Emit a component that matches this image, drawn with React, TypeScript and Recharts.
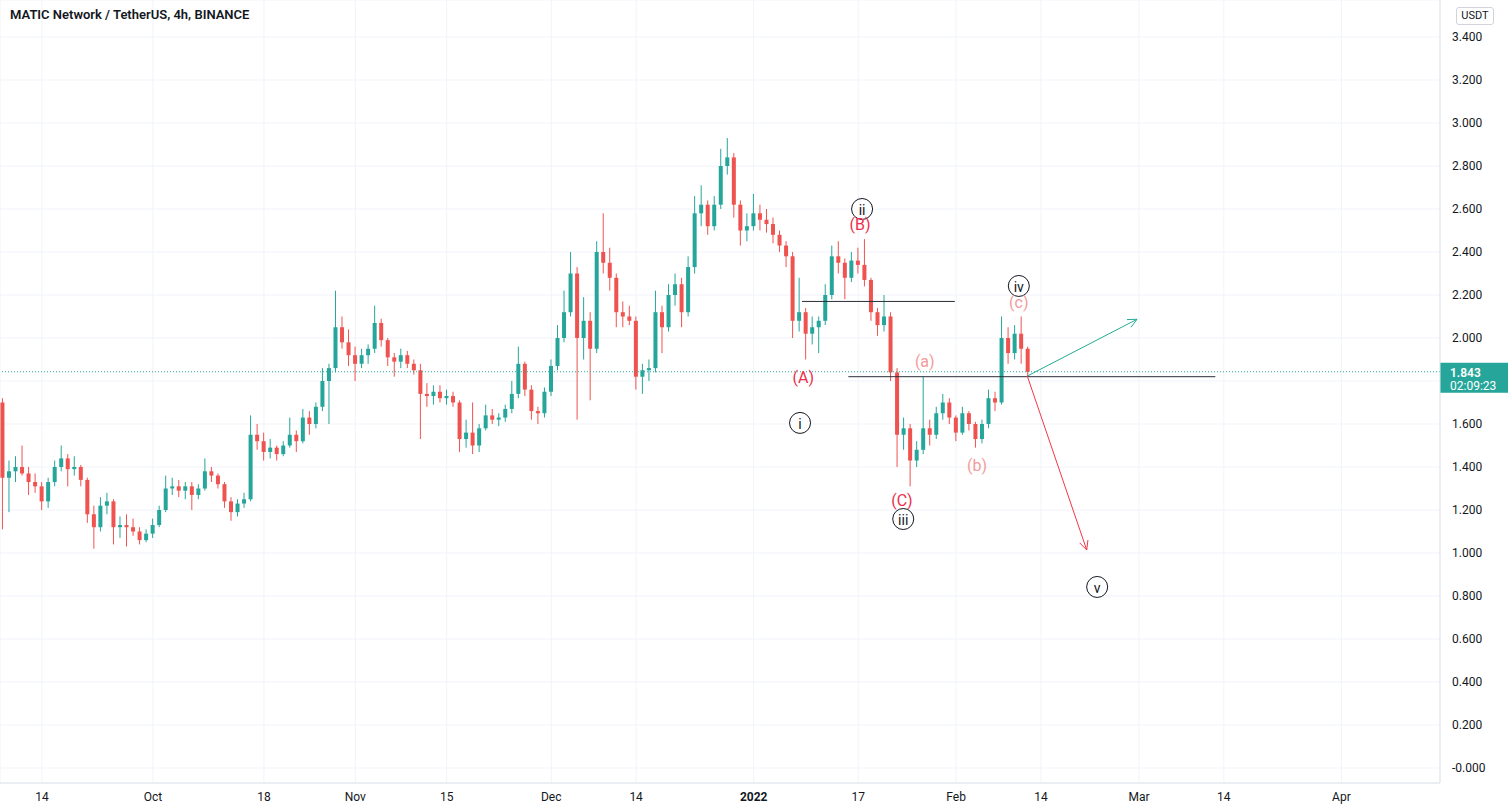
import React from 'react';
import { ComposedChart, Bar, XAxis, YAxis, CartesianGrid, ReferenceLine, ReferenceDot } from 'recharts';

// day index: 0 = Sep 1 2021
const firstDay = 7;
const opens = [1.70,1.35,1.38,1.40,1.37,1.33,1.31,1.24,1.33,1.40,1.44,1.39,1.40,1.34,1.18,1.12,1.22,1.24,1.12,1.13,1.12,1.10,1.06,1.09,1.13,1.20,1.30,1.31,1.29,1.31,1.27,1.30,1.38,1.36,1.32,1.24,1.19,1.23,1.25,1.55,1.52,1.47,1.49,1.46,1.50,1.55,1.52,1.63,1.60,1.68,1.80,1.86,2.05,1.98,1.92,1.88,1.92,1.95,2.07,1.99,1.91,1.89,1.92,1.88,1.85,1.74,1.73,1.75,1.72,1.73,1.70,1.53,1.56,1.50,1.58,1.64,1.62,1.63,1.67,1.74,1.88,1.76,1.66,1.65,1.75,1.87,2.00,2.12,2.30,2.00,2.08,1.95,2.40,2.35,2.28,2.12,2.10,2.08,1.82,1.85,1.86,2.12,2.05,2.20,2.25,2.12,2.33,2.58,2.62,2.52,2.62,2.80,2.84,2.62,2.50,2.52,2.58,2.55,2.53,2.48,2.43,2.38,2.08,2.12,2.02,2.05,2.08,2.20,2.38,2.35,2.28,2.36,2.34,2.27,2.12,2.06,2.10,1.84,1.55,1.58,1.43,1.48,1.58,1.55,1.65,1.70,1.63,1.56,1.65,1.60,1.53,1.60,1.72,1.70,2.00,1.93,2.02,1.95];
const highs = [1.72,1.43,1.45,1.50,1.40,1.37,1.33,1.35,1.43,1.50,1.46,1.45,1.41,1.35,1.22,1.26,1.28,1.25,1.17,1.18,1.16,1.12,1.11,1.16,1.22,1.36,1.35,1.34,1.33,1.33,1.32,1.44,1.40,1.37,1.33,1.26,1.25,1.28,1.64,1.60,1.56,1.53,1.50,1.52,1.63,1.57,1.67,1.66,1.70,1.86,1.88,2.22,2.10,2.04,1.96,1.95,1.97,2.15,2.09,2.00,1.93,1.95,1.94,1.90,1.88,1.79,1.78,1.78,1.76,1.75,1.71,1.62,1.70,1.60,1.69,1.67,1.65,1.69,1.80,1.96,1.89,1.78,1.68,1.77,1.90,2.06,2.22,2.40,2.33,2.19,2.12,2.45,2.58,2.42,2.30,2.17,2.15,2.10,1.88,1.90,2.22,2.15,2.25,2.30,2.28,2.38,2.66,2.71,2.64,2.66,2.88,2.93,2.86,2.64,2.58,2.67,2.62,2.60,2.56,2.50,2.45,2.40,2.28,2.14,2.10,2.10,2.25,2.43,2.45,2.37,2.40,2.42,2.46,2.28,2.14,2.20,2.12,1.86,1.63,1.60,1.52,1.82,1.62,1.68,1.74,1.72,1.64,1.68,1.66,1.61,1.62,1.76,1.75,2.10,2.05,2.06,2.10,1.96];
const lows = [1.11,1.19,1.33,1.36,1.27,1.28,1.20,1.21,1.31,1.38,1.31,1.36,1.31,1.14,1.02,1.10,1.18,1.04,1.07,1.03,1.08,1.04,1.05,1.07,1.12,1.19,1.27,1.26,1.25,1.20,1.25,1.29,1.33,1.30,1.21,1.15,1.17,1.21,1.24,1.48,1.43,1.44,1.43,1.45,1.49,1.47,1.51,1.55,1.58,1.66,1.60,1.84,1.95,1.87,1.80,1.86,1.88,1.93,1.96,1.87,1.82,1.86,1.86,1.83,1.53,1.68,1.69,1.70,1.69,1.68,1.47,1.49,1.46,1.47,1.57,1.60,1.59,1.61,1.65,1.72,1.73,1.62,1.60,1.63,1.73,1.85,1.98,2.10,1.62,1.90,1.71,1.93,2.30,2.22,2.05,2.05,2.06,1.76,1.74,1.80,1.84,1.93,2.03,2.15,2.05,2.10,2.30,2.52,2.48,2.50,2.60,2.76,2.56,2.43,2.45,2.50,2.50,2.49,2.44,2.40,2.33,2.00,2.03,1.90,1.97,1.93,2.06,2.18,2.30,2.18,2.26,2.30,2.24,2.08,2.01,2.03,1.80,1.40,1.48,1.31,1.40,1.46,1.50,1.53,1.62,1.60,1.52,1.55,1.57,1.49,1.51,1.58,1.66,1.69,1.88,1.90,1.88,1.82];
const closes = [1.35,1.38,1.40,1.37,1.33,1.31,1.24,1.33,1.40,1.44,1.39,1.40,1.34,1.18,1.12,1.22,1.24,1.12,1.13,1.12,1.10,1.06,1.09,1.13,1.20,1.30,1.31,1.29,1.31,1.27,1.30,1.38,1.36,1.32,1.24,1.19,1.23,1.25,1.55,1.52,1.47,1.49,1.46,1.50,1.55,1.52,1.63,1.60,1.68,1.80,1.86,2.05,1.98,1.92,1.88,1.92,1.95,2.07,1.99,1.91,1.89,1.92,1.88,1.85,1.74,1.73,1.75,1.72,1.73,1.70,1.53,1.56,1.50,1.58,1.64,1.62,1.63,1.67,1.74,1.88,1.76,1.66,1.65,1.75,1.87,2.00,2.12,2.30,2.00,2.08,1.95,2.40,2.35,2.28,2.12,2.10,2.08,1.82,1.85,1.86,2.12,2.05,2.20,2.25,2.12,2.33,2.58,2.62,2.52,2.62,2.80,2.84,2.62,2.50,2.52,2.58,2.55,2.53,2.48,2.43,2.38,2.08,2.12,2.02,2.05,2.08,2.20,2.38,2.35,2.28,2.36,2.34,2.27,2.12,2.06,2.10,1.84,1.55,1.58,1.43,1.48,1.58,1.55,1.65,1.70,1.63,1.56,1.65,1.60,1.53,1.60,1.72,1.70,2.00,1.93,2.02,1.95,1.843];

const tickDays = [13, 30, 47, 61, 75, 91, 104, 122, 138, 153, 166, 181, 194, 212];
const tickLabels = ['14', 'Oct', '18', 'Nov', '15', 'Dec', '14', '2022', '17', 'Feb', '14', 'Mar', '14', 'Apr'];
const priceTicks = [0, 0.2, 0.4, 0.6, 0.8, 1.0, 1.2, 1.4, 1.6, 1.8, 2.0, 2.2, 2.4, 2.6, 2.8, 3.0, 3.2, 3.4];

const levelLines = [
  { from: 129.4, to: 152.8, price: 2.17 },
  { from: 136.5, to: 192.7, price: 1.82 },
];
const arrows = [
  { x1: 163.9, y1: 1.823, x2: 180.7, y2: 2.087, kind: 'up' },
  { x1: 163.9, y1: 1.823, x2: 173.0, y2: 1.014, kind: 'down' },
];
const waveLabels = [
  { t: 129.6, p: 1.814, text: '(A)', kind: 'major' },
  { t: 129.1, p: 1.605, text: 'i', kind: 'circle' },
  { t: 138.6, p: 2.60, text: 'ii', kind: 'circle' },
  { t: 138.3, p: 2.526, text: '(B)', kind: 'major' },
  { t: 148.2, p: 1.893, text: '(a)', kind: 'minor' },
  { t: 144.7, p: 1.242, text: '(C)', kind: 'major' },
  { t: 144.9, p: 1.158, text: 'iii', kind: 'circle' },
  { t: 156.2, p: 1.405, text: '(b)', kind: 'minor' },
  { t: 162.6, p: 2.242, text: 'iv', kind: 'circle' },
  { t: 162.6, p: 2.167, text: '(c)', kind: 'minor' },
  { t: 174.6, p: 0.842, text: 'v', kind: 'circle' },
];

const UP = '#26a69a';
const DOWN = '#ef5350';
const FONT = 'Roboto, "Liberation Sans", sans-serif';
const TEXT = '#131722';

const data = closes.map((c, i) => ({
  t: firstDay + i,
  range: [lows[i], highs[i]],
  open: opens[i],
  high: highs[i],
  low: lows[i],
  close: c,
}));
const lastClose = closes[closes.length - 1];

const Candle = (props: any) => {
  const { x, y, width, height, payload } = props;
  if (x == null || y == null) return null;
  const top = Math.min(y, y + height);
  const h = Math.abs(height);
  const { open, close, high, low } = payload;
  const span = high - low || 1;
  const py = (v: number) => top + ((high - v) / span) * h;
  const color = close >= open ? UP : DOWN;
  const cx = x + width / 2;
  const bTop = py(Math.max(open, close));
  const bBot = py(Math.min(open, close));
  return (
    <g>
      <line x1={cx} x2={cx} y1={top} y2={top + h} stroke={color} strokeWidth={1} />
      <rect x={x} y={bTop} width={width} height={Math.max(1, bBot - bTop)} fill={color} />
    </g>
  );
};

const ArrowShape = (color: string) => (props: any) => {
  const { x1, y1, x2, y2 } = props;
  if ([x1, y1, x2, y2].some((v) => v == null || isNaN(v))) return null;
  const ang = Math.atan2(y2 - y1, x2 - x1);
  const len = 10;
  const a1 = ang + Math.PI - 0.45;
  const a2 = ang + Math.PI + 0.45;
  return (
    <g>
      <line x1={x1} y1={y1} x2={x2} y2={y2} stroke={color} strokeWidth={1} />
      <line x1={x2} y1={y2} x2={x2 + len * Math.cos(a1)} y2={y2 + len * Math.sin(a1)} stroke={color} strokeWidth={1} />
      <line x1={x2} y1={y2} x2={x2 + len * Math.cos(a2)} y2={y2 + len * Math.sin(a2)} stroke={color} strokeWidth={1} />
    </g>
  );
};

const labelShape = (text: string, kind: string) => (p: any) => {
  const { cx, cy } = p;
  if (cx == null || cy == null) return null;
  if (kind === 'circle') {
    return (
      <g>
        <circle cx={cx} cy={cy} r={10.5} fill="#ffffff" stroke={TEXT} strokeWidth={1} />
        <text x={cx} y={cy + 1} textAnchor="middle" dominantBaseline="central" fontSize={14} fontFamily={FONT} fill={TEXT}>{text}</text>
      </g>
    );
  }
  const color = kind === 'major' ? '#ec2f4b' : '#f39b9b';
  return (
    <text x={cx} y={cy} textAnchor="middle" dominantBaseline="central" fontSize={16} fontFamily={FONT} fill={color}>{text}</text>
  );
};

const PriceTag = (props: any) => {
  const vb = props.viewBox || {};
  const x = (vb.x || 0) + (vb.width || 0);
  const y = vb.y || 0;
  return (
    <g>
      <rect x={x} y={y - 9} width={68} height={30} fill={UP} />
      <text x={x + 10} y={y + 1} fontSize={12} fontWeight={600} fontFamily={FONT} fill="#ffffff" dominantBaseline="central">{lastClose.toFixed(3)}</text>
      <text x={x + 10} y={y + 14} fontSize={12} fontFamily={FONT} fill="#ffffff" dominantBaseline="central">02:09:23</text>
    </g>
  );
};

const XTick = (props: any) => {
  const { x, y, payload } = props;
  const idx = tickDays.indexOf(payload.value);
  const label = idx >= 0 ? tickLabels[idx] : '';
  return (
    <text x={x} y={y + 6} textAnchor="middle" dominantBaseline="central" fontSize={12} fontFamily={FONT} fill={TEXT} fontWeight={label === '2022' ? 700 : 400}>{label}</text>
  );
};

const YTick = (props: any) => {
  const { x, y, payload } = props;
  const v = payload.value;
  // the live price tag covers the tick labels that sit beneath it
  if (Math.abs(v - lastClose) < 0.08) return <g />;
  const s = v === 0 ? '-0.000' : v.toFixed(3);
  return (
    <text x={x} y={y} textAnchor="start" dominantBaseline="central" fontSize={12} fontFamily={FONT} fill={TEXT}>{s}</text>
  );
};

export default function App() {
  return (
    <div style={{ position: 'absolute', left: 0, top: 0, width: 1508, height: 812, background: '#ffffff', overflow: 'hidden' }}>
      <ComposedChart width={1508} height={812} data={data} margin={{ top: 0, right: 0, bottom: 0, left: 0 }}>
        <CartesianGrid stroke="#f0f3fa" />
        <XAxis
          dataKey="t"
          type="number"
          domain={[6.585, 227.1]}
          allowDataOverflow
          ticks={tickDays}
          tick={<XTick />}
          tickLine={false}
          axisLine={{ stroke: '#e0e3eb' }}
          height={29}
          interval={0}
        />
        <YAxis
          orientation="right"
          type="number"
          domain={[-0.0698, 3.5721]}
          allowDataOverflow
          ticks={priceTicks}
          tick={<YTick />}
          tickLine={false}
          tickMargin={6}
          axisLine={{ stroke: '#e0e3eb' }}
          width={68}
          interval={0}
        />
        <Bar dataKey="range" shape={<Candle />} barSize={4} isAnimationActive={false} />
        <ReferenceLine y={lastClose} stroke={UP} strokeDasharray="1 2" label={<PriceTag />} />
        {levelLines.map((l, i) => (
          <ReferenceLine key={'lv' + i} segment={[{ x: l.from, y: l.price }, { x: l.to, y: l.price }]} stroke="#2a2e39" strokeWidth={1} />
        ))}
        {arrows.map((a, i) => (
          <ReferenceLine
            key={'ar' + i}
            segment={[{ x: a.x1, y: a.y1 }, { x: a.x2, y: a.y2 }]}
            shape={ArrowShape(a.kind === 'up' ? '#22ab94' : '#f23645')}
          />
        ))}
        {waveLabels.map((w, i) => (
          <ReferenceDot key={'wl' + i} x={w.t} y={w.p} r={1} shape={labelShape(w.text, w.kind)} />
        ))}
      </ComposedChart>
      <div style={{ position: 'absolute', left: 10, top: 7, fontFamily: FONT, fontSize: 13, fontWeight: 600, color: TEXT }}>
        MATIC Network / TetherUS, 4h, BINANCE
      </div>
      <div style={{ position: 'absolute', left: 1456, top: 7, width: 36, height: 16, border: '1px solid #d1d4dc', borderRadius: 3, fontFamily: FONT, fontSize: 11, color: TEXT, textAlign: 'center', lineHeight: '16px' }}>
        USDT
      </div>
    </div>
  );
}
